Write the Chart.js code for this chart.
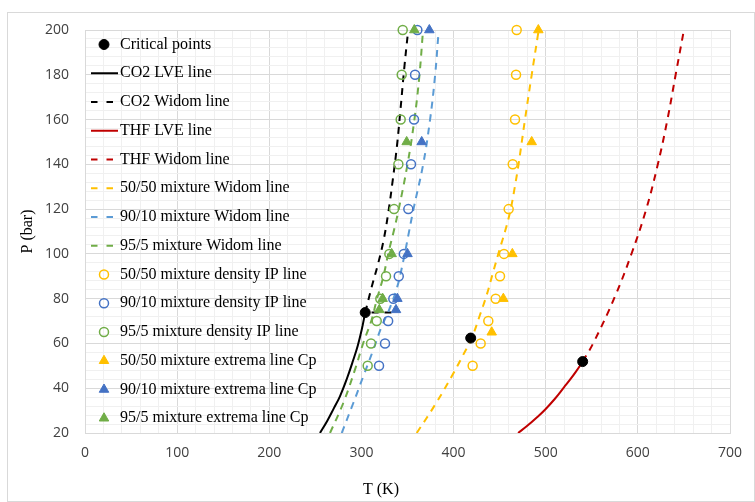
<!DOCTYPE html>
<html>
<head>
<meta charset="utf-8">
<script src="https://cdn.jsdelivr.net/npm/chart.js@4.4.1/dist/chart.umd.min.js"></script>
<style>
  html, body { margin: 0; padding: 0; background: #fff; }
</style>
</head>
<body>
<canvas id="phaseChart" width="755" height="502"></canvas>
<script>
// values: T in K, P in bar
const critT = [304.1, 418.6, 540.1];
const critP = [73.8, 62.4, 51.9];

const co2LveT = [255, 263, 270, 276.7, 284, 291.2, 296, 300.3, 304.1];
const co2LveP = [20, 25.5, 31, 36.4, 44, 52.7, 59, 66.1, 73.8];
const co2WidomT = [304.1, 311, 318, 324, 329, 334, 338.5, 342.5, 346.5, 350.5];
const co2WidomP = [73.8, 85, 95.5, 106, 118, 133, 148, 165, 183, 199];
const co2StubT = [311, 335];
const co2StubP = [73.8, 73.8];

const thfLveT = [470, 480, 490, 499.2, 510, 520, 526.4, 533, 540.1];
const thfLveP = [20, 23.2, 26.8, 30.4, 35.3, 40.5, 43.8, 47.5, 51.9];
const thfWidomT = [540.1, 551.7, 575.2, 593.3, 608.9, 621.1, 632, 641.3, 650];
const thfWidomP = [51.9, 60.2, 81, 100.3, 119.7, 139, 159.8, 180.7, 200];

const w50T = [360, 379.9, 398, 410.6, 419.7, 428.7, 436, 443.1, 450.4, 456.5, 462, 466.5, 470.5, 477.5, 484.8, 492];
const w50P = [20, 32.6, 45.3, 55, 62.4, 72.8, 81.7, 92.1, 102.6, 111, 120, 130, 140, 160, 180, 199];
const w90T = [278.6, 291.2, 302, 312.9, 322, 330, 339, 345.5, 351, 356.5, 367, 374.5, 380, 383.5];
const w90P = [20, 33.4, 45.3, 57.2, 67.6, 75, 85.5, 97, 108.5, 120, 140, 160, 180, 198];
const w95T = [265.9, 280.3, 293, 302, 311.1, 316.6, 323.8, 329.2, 335, 340.5, 350, 357.5, 363, 366.5];
const w95P = [20, 33.4, 48.3, 60.2, 70.6, 79.5, 89.9, 100.3, 110, 120, 140, 160, 180, 198];

const ipP = [50, 60, 70, 80, 90, 100, 120, 140, 160, 180, 200];
const ip50T = [420.7, 429.4, 437.7, 445.7, 450.4, 454.7, 459.8, 464.2, 466.7, 467.8, 468.5];
const ip90T = [319.1, 325.6, 329, 334.6, 340.5, 346, 350.9, 353.8, 357.1, 358.2, 360.7];
const ip95T = [306.8, 310.4, 316.6, 320.5, 326.7, 330.3, 335.4, 340.1, 342.6, 343.7, 344.8];

const cp50T = [441.4, 454, 463.8, 484.8, 492];
const cp50P = [65, 80, 100, 150, 200];
const cp90T = [337.5, 339, 350, 365.4, 373.7];
const cp90P = [75, 80, 100, 150, 200];
const cp95T = [319.4, 323, 332.8, 349.1, 357.4];
const cp95P = [75, 80, 100, 150, 200];

const xTicks = { min: 0, max: 700, step: 20, major: 100 };
const yTicks = { min: 20, max: 200, step: 4, major: 20 };

const ORANGE = '#FFC000', BLUE_LINE = '#5B9BD5', BLUE = '#4472C4', GREEN = '#70AD47', RED = '#C00000';

const toXY = (ts, ps) => ts.map((t, i) => ({ x: t, y: ps[i] }));

function lineSet(label, ts, ps, color, dashed) {
  return {
    label, data: toXY(ts, ps), showLine: true,
    borderColor: color, backgroundColor: color, borderWidth: 2,
    borderDash: dashed ? [7, 6] : [], pointRadius: 0, pointHoverRadius: 0,
    tension: 0.4, order: 3
  };
}

function markerSet(label, ts, ps, color, style, filled, r) {
  return {
    label, data: toXY(ts, ps), showLine: false,
    pointStyle: style, pointRadius: r, pointHoverRadius: r,
    pointBackgroundColor: filled ? color : 'rgba(255,255,255,0)',
    pointBorderColor: color, pointBorderWidth: filled ? 1 : 1.5,
    borderColor: color, backgroundColor: filled ? color : 'rgba(255,255,255,0)',
    clip: false, order: style === 'triangle' ? 1 : 2
  };
}

const stub = lineSet('CO2 Widom line', co2StubT, co2StubP, '#000', true);
stub.noLegend = true;

const datasets = [
  Object.assign(markerSet('Critical points', critT, critP, '#000', 'circle', true, 5), { order: 0 }),
  lineSet('CO2 LVE line', co2LveT, co2LveP, '#000', false),
  lineSet('CO2 Widom line', co2WidomT, co2WidomP, '#000', true),
  lineSet('THF LVE line', thfLveT, thfLveP, RED, false),
  lineSet('THF Widom line', thfWidomT, thfWidomP, RED, true),
  lineSet('50/50 mixture Widom line', w50T, w50P, ORANGE, true),
  lineSet('90/10 mixture Widom line', w90T, w90P, BLUE_LINE, true),
  lineSet('95/5 mixture Widom line', w95T, w95P, GREEN, true),
  markerSet('50/50 mixture density IP line', ip50T, ipP, ORANGE, 'circle', false, 4.5),
  markerSet('90/10 mixture density IP line', ip90T, ipP, BLUE, 'circle', false, 4.5),
  markerSet('95/5 mixture density IP line', ip95T, ipP, GREEN, 'circle', false, 4.5),
  markerSet('50/50 mixture extrema line Cp', cp50T, cp50P, ORANGE, 'triangle', true, 5.5),
  markerSet('90/10 mixture extrema line Cp', cp90T, cp90P, BLUE, 'triangle', true, 5.5),
  markerSet('95/5 mixture extrema line Cp', cp95T, cp95P, GREEN, 'triangle', true, 5.5),
  stub
];

function drawMarker(ctx, ds, x, y) {
  const r = ds.pointRadius;
  ctx.beginPath();
  if (ds.pointStyle === 'triangle') {
    for (let k = 0; k < 3; k++) {
      const a = k * 2 * Math.PI / 3;
      ctx.lineTo(x + Math.sin(a) * r, y - Math.cos(a) * r);
    }
    ctx.closePath();
  } else {
    ctx.arc(x, y, r, 0, 2 * Math.PI);
  }
  ctx.fillStyle = ds.pointBackgroundColor;
  ctx.fill();
  ctx.lineWidth = ds.pointBorderWidth;
  ctx.strokeStyle = ds.pointBorderColor;
  ctx.stroke();
}

// legend sits inside the plot area, top-left, no background
const frameAndLegend = {
  id: 'frameAndLegend',
  beforeDraw(chart) {
    const ctx = chart.ctx;
    ctx.save();
    ctx.fillStyle = '#fff';
    ctx.fillRect(0, 0, chart.width, chart.height);
    ctx.strokeStyle = '#d9d9d9';
    ctx.lineWidth = 1;
    ctx.strokeRect(7.5, 12.5, chart.width - 8, chart.height - 13);
    ctx.restore();
  },
  afterDraw(chart) {
    const ctx = chart.ctx;
    const area = chart.chartArea;
    const x0 = area.left + 6;
    let y = area.top + 14.5;
    ctx.save();
    ctx.font = '16px "Liberation Serif"';
    ctx.textBaseline = 'middle';
    chart.data.datasets.forEach((ds) => {
      if (ds.noLegend) return;
      if (ds.showLine) {
        ctx.strokeStyle = ds.borderColor;
        ctx.lineWidth = ds.borderWidth;
        ctx.setLineDash(ds.borderDash.length ? [6.5, 9] : []);
        ctx.beginPath();
        ctx.moveTo(x0, y);
        ctx.lineTo(x0 + 27, y);
        ctx.stroke();
        ctx.setLineDash([]);
      } else {
        drawMarker(ctx, ds, x0 + 13, y);
      }
      ctx.fillStyle = '#000';
      ctx.fillText(ds.label, x0 + 29, y);
      y += 28.75;
    });
    // x axis title
    ctx.textAlign = 'center';
    ctx.fillText('T (K)', 381, 490);
    ctx.restore();
  }
};

const tickFont = { family: '"Open Sans"', size: 14 };

new Chart(document.getElementById('phaseChart'), {
  type: 'scatter',
  data: { datasets },
  options: {
    responsive: false,
    animation: false,
    layout: { padding: { left: 7, right: 25, top: 30, bottom: 0 } },
    plugins: { legend: { display: false }, tooltip: { enabled: false } },
    scales: {
      x: {
        type: 'linear', min: xTicks.min, max: xTicks.max,
        afterFit: (s) => { s.height = 69; },
        border: { color: '#d9d9d9' },
        grid: {
          drawTicks: false,
          color: (c) => (c.tick && c.tick.value % xTicks.major === 0 ? '#d9d9d9' : '#f0f0f0')
        },
        ticks: {
          stepSize: xTicks.step, autoSkip: false, maxRotation: 0, padding: 12,
          color: '#404040', font: tickFont,
          callback: (v) => (v % xTicks.major === 0 ? v : '')
        }
      },
      y: {
        type: 'linear', min: yTicks.min, max: yTicks.max,
        afterFit: (s) => { s.width = 78; },
        border: { color: '#d9d9d9' },
        grid: {
          drawTicks: false,
          color: (c) => (c.tick && c.tick.value % yTicks.major === 0 ? '#d9d9d9' : '#f0f0f0')
        },
        ticks: {
          stepSize: yTicks.step, autoSkip: false, padding: 16,
          color: '#404040', font: tickFont,
          callback: (v) => (v % yTicks.major === 0 ? v : '')
        },
        title: {
          display: true, text: 'P (bar)', color: '#000',
          font: { family: '"Liberation Serif"', size: 16 },
          padding: { top: 11, bottom: 0 }
        }
      }
    }
  },
  plugins: [frameAndLegend]
});
</script>
</body>
</html>
